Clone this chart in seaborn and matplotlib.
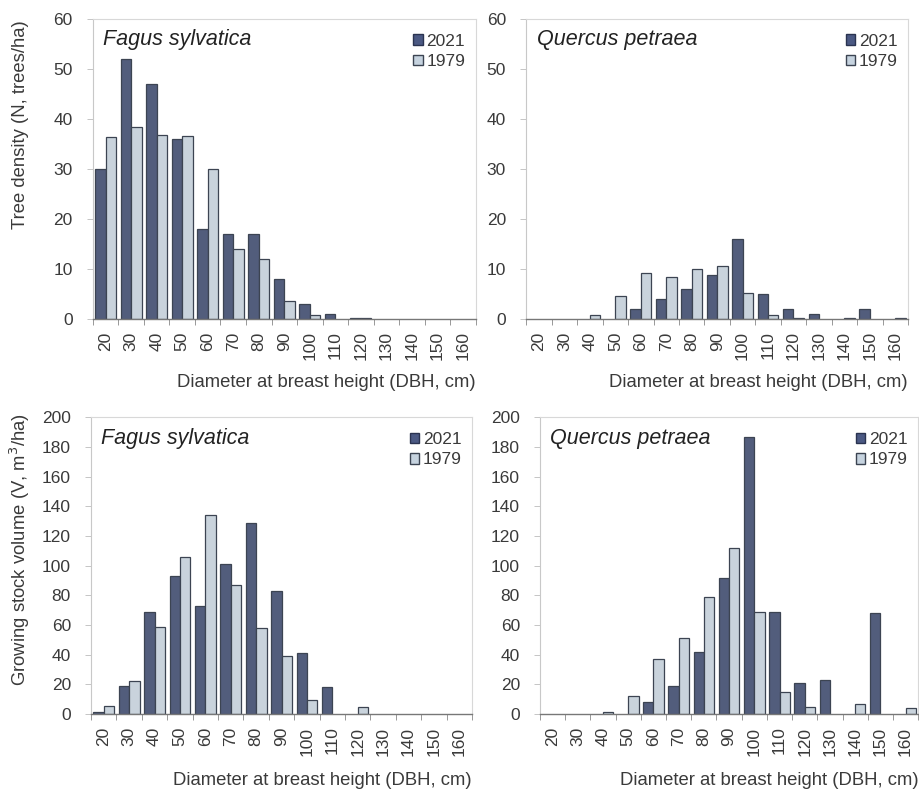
import numpy as np
import pandas as pd
import matplotlib
matplotlib.use("Agg")
import matplotlib.pyplot as plt
from matplotlib.patches import Patch
import seaborn as sns

sns.set_theme(style="white")
plt.rcParams["font.family"] = ["Liberation Sans", "DejaVu Sans"]

# DBH classes (cm)
dbh = [20, 30, 40, 50, 60, 70, 80, 90, 100, 110, 120, 130, 140, 150, 160]
years = ["2021", "1979"]

# Tree density (N, trees/ha)
fagus_n_2021 = [30, 52, 47, 36, 18, 17, 17, 8, 3, 1, 0.2, 0, 0, 0, 0]
fagus_n_1979 = [36.3, 38.3, 36.7, 36.6, 30, 14, 12, 3.5, 0.8, 0, 0.1, 0, 0, 0, 0]
quercus_n_2021 = [0, 0, 0, 0, 2, 4, 6, 8.8, 16, 5, 2, 1, 0, 2, 0]
quercus_n_1979 = [0, 0, 0.8, 4.5, 9.2, 8.4, 10, 10.6, 5.1, 0.8, 0.2, 0, 0.2, 0, 0.2]

# Growing stock volume (V, m3/ha)
fagus_v_2021 = [1.6, 19, 69, 93, 73, 101, 129, 83, 41, 18, 0, 0, 0, 0, 0]
fagus_v_1979 = [5.4, 22, 59, 106, 134, 87, 58, 39, 9.5, 0, 5, 0, 0, 0, 0]
quercus_v_2021 = [0, 0, 0, 0, 8, 19, 42, 92, 187, 69, 21, 23, 0, 68, 0]
quercus_v_1979 = [0, 0, 1.5, 12, 37, 51, 79, 112, 69, 15, 5, 0, 7, 0, 4]

dark = "#4b5983"
light = "#c6d3df"
dark_edge = "#2a3350"
light_edge = "#3c4452"
text_col = "#3a3a3a"


def long_frame(v2021, v1979):
    return pd.DataFrame({
        "DBH": [str(d) for d in dbh] * 2,
        "Year": ["2021"] * len(dbh) + ["1979"] * len(dbh),
        "Value": list(v2021) + list(v1979),
    })


fig = plt.figure(figsize=(9.2, 7.89), dpi=100)

panels = [
    # (rect, species, v2021, v1979, ymax, ystep, xlabel_y)
    ([0.101, 0.596, 0.416, 0.380], "Fagus sylvatica", fagus_n_2021, fagus_n_1979, 60, 10, -0.183),
    ([0.572, 0.596, 0.415, 0.380], "Quercus petraea", quercus_n_2021, quercus_n_1979, 60, 10, -0.183),
    ([0.099, 0.095, 0.414, 0.376], "Fagus sylvatica", fagus_v_2021, fagus_v_1979, 200, 20, -0.195),
    ([0.587, 0.095, 0.411, 0.376], "Quercus petraea", quercus_v_2021, quercus_v_1979, 200, 20, -0.195),
]

for rect, species, v21, v79, ymax, ystep, xlab_y in panels:
    ax = fig.add_axes(rect)
    df = long_frame(v21, v79)
    sns.barplot(data=df, x="DBH", y="Value", hue="Year", hue_order=years,
                order=[str(d) for d in dbh], palette=[dark, light],
                width=0.82, gap=0, ax=ax, legend=False, errorbar=None,
                linewidth=0.9)
    for patch in ax.patches:
        fc = matplotlib.colors.to_hex(patch.get_facecolor())
        patch.set_edgecolor(dark_edge if fc == dark else light_edge)
        # empty classes leave no mark
        if patch.get_height() == 0:
            patch.set_visible(False)
    ax.set_xlim(-0.5, len(dbh) - 0.5)
    ax.set_ylim(0, ymax)
    ax.set_yticks(np.arange(0, ymax + 1, ystep))
    ax.tick_params(axis="y", labelsize=12.5, colors=text_col, length=4.5,
                   width=0.6, color="#bbbbbb", left=True, pad=10)
    ax.set_xticks(range(len(dbh)))
    ax.set_xticklabels([str(d) for d in dbh], rotation=90)
    ax.tick_params(axis="x", which="major", length=0, labelsize=12.5,
                   colors=text_col, pad=9)
    ax.set_xticks(np.arange(-0.5, len(dbh), 1), minor=True)
    ax.tick_params(axis="x", which="minor", length=4, width=0.6,
                   color="#888888", bottom=True)
    for side in ["top", "right"]:
        ax.spines[side].set_color("#d8d8d8")
        ax.spines[side].set_linewidth(0.8)
    ax.spines["left"].set_color("#c8c8c8")
    ax.spines["left"].set_linewidth(0.8)
    ax.spines["bottom"].set_color("#777777")
    ax.spines["bottom"].set_linewidth(1.0)
    ax.set_xlabel("Diameter at breast height (DBH, cm)", fontsize=13.3,
                  color=text_col, loc="right")
    ax.xaxis.set_label_coords(1.0, xlab_y)
    ax.set_ylabel("")
    ax.text(0.027, 0.965, species, transform=ax.transAxes, fontsize=15.5,
            style="italic", color="#222222", va="top", ha="left")
    handles = [Patch(facecolor=dark, edgecolor=dark_edge, label="2021"),
               Patch(facecolor=light, edgecolor=light_edge, label="1979")]
    ax.legend(handles=handles, loc="upper right", frameon=False,
              fontsize=12.5, handlelength=0.55, handleheight=0.55,
              handletextpad=0.2, labelspacing=0.3,
              bbox_to_anchor=(1.0, 0.985), borderaxespad=0.2,
              labelcolor=text_col)

fig.text(0.022, 0.842, "Tree density (N, trees/ha)", rotation=90,
         ha="center", va="center", fontsize=13.3, color=text_col)
fig.text(0.022, 0.303, "Growing stock volume (V, m$^3$/ha)", rotation=90,
         ha="center", va="center", fontsize=13.3, color=text_col)

fig.savefig("out.png", dpi=100, facecolor="white")
